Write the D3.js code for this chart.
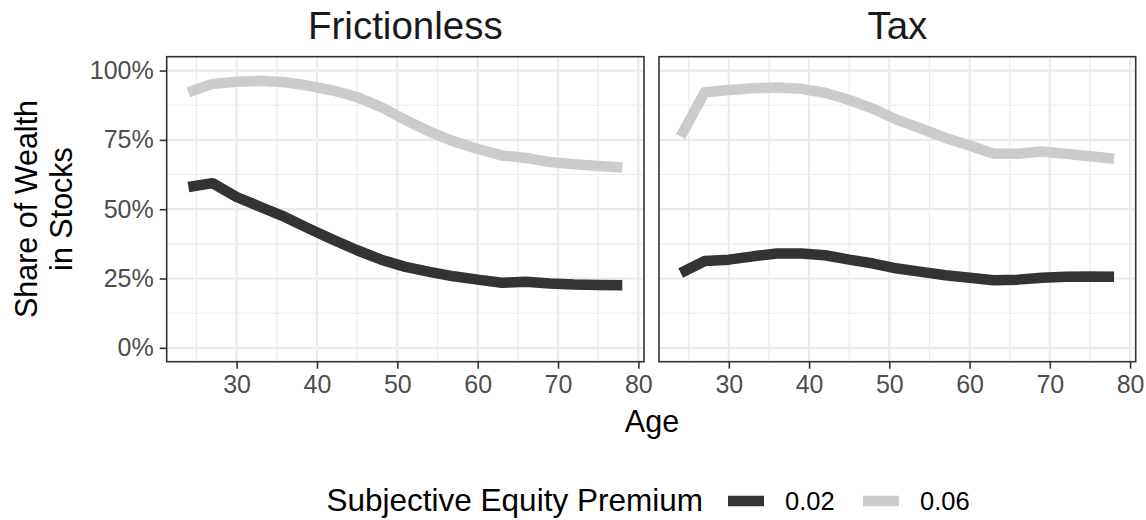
<!DOCTYPE html>
<html><head><meta charset="utf-8">
<script src="https://cdn.jsdelivr.net/npm/d3@7"></script>
<style>body{margin:0;background:#fff} text{font-family:"Liberation Sans",Arial,Helvetica,sans-serif}</style>
</head><body><svg id="c" width="1146" height="520"></svg>
<script>
const ages = [24,27,30,33,36,39,42,45,48,51,54,57,60,63,66,69,72,75,78];
const panels = ["Frictionless","Tax"];
const premiums = ["0.02","0.06"];
const frictionless002 = [0.580,0.594,0.544,0.508,0.472,0.430,0.390,0.352,0.318,0.292,0.274,0.258,0.246,0.235,0.238,0.232,0.228,0.227,0.226];
const frictionless006 = [0.922,0.952,0.960,0.963,0.958,0.945,0.928,0.904,0.868,0.822,0.780,0.745,0.717,0.694,0.685,0.670,0.662,0.656,0.650];
const tax002 = [0.270,0.313,0.318,0.330,0.340,0.340,0.334,0.318,0.304,0.286,0.274,0.262,0.253,0.244,0.246,0.253,0.256,0.257,0.256];
const tax006 = [0.762,0.922,0.930,0.936,0.939,0.934,0.920,0.894,0.862,0.822,0.790,0.757,0.730,0.700,0.700,0.708,0.700,0.691,0.682];
const xTicks = [30,40,50,60,70,80];
const xMinor = [25,35,45,55,65,75];
const yTicks = [0,0.25,0.5,0.75,1];
const yTickLabels = ["0%","25%","50%","75%","100%"];
const yMinor = [0.125,0.375,0.625,0.875];
const colors = ["#333333","#cccccc"];

const seriesByPanel = [[frictionless002, frictionless006],[tax002, tax006]];

(function(){
const svg = d3.select("#c");
const pTop = 56.7, pBottom = 361.7;
const panelRanges = [[166.7,644],[659,1135.7]];
const y = d3.scaleLinear().domain([-0.05,1.05]).range([pBottom, pTop]);

panelRanges.forEach((r, pi) => {
  const x = d3.scaleLinear().domain([21.3,80.7]).range(r);
  const g = svg.append("g");
  g.selectAll(".mx").data(xMinor).enter().append("line")
    .attr("x1", d=>x(d)).attr("x2", d=>x(d)).attr("y1", pTop).attr("y2", pBottom)
    .attr("stroke","#ebebeb").attr("stroke-width",1.1);
  g.selectAll(".my").data(yMinor).enter().append("line")
    .attr("y1", d=>y(d)).attr("y2", d=>y(d)).attr("x1", r[0]).attr("x2", r[1])
    .attr("stroke","#ebebeb").attr("stroke-width",1.1);
  g.selectAll(".Mx").data(xTicks).enter().append("line")
    .attr("x1", d=>x(d)).attr("x2", d=>x(d)).attr("y1", pTop).attr("y2", pBottom)
    .attr("stroke","#ebebeb").attr("stroke-width",2.2);
  g.selectAll(".My").data(yTicks).enter().append("line")
    .attr("y1", d=>y(d)).attr("y2", d=>y(d)).attr("x1", r[0]).attr("x2", r[1])
    .attr("stroke","#ebebeb").attr("stroke-width",2.2);
  const line = d3.line().x((d,i)=>x(ages[i])).y(d=>y(d));
  seriesByPanel[pi].forEach((s, si) => {
    g.append("path").attr("d", line(s)).attr("fill","none")
      .attr("stroke", colors[si]).attr("stroke-width",10.5)
      .attr("stroke-linejoin","round").attr("stroke-linecap","butt");
  });
  g.append("rect").attr("x", r[0]).attr("y", pTop).attr("width", r[1]-r[0]).attr("height", pBottom-pTop)
    .attr("fill","none").attr("stroke","#333333").attr("stroke-width",1.6);
  const xa = svg.append("g").attr("transform", `translate(0,${pBottom})`)
    .call(d3.axisBottom(x).tickValues(xTicks).tickSize(7).tickPadding(7).tickSizeOuter(0));
  xa.select(".domain").remove();
  xa.selectAll(".tick line").attr("stroke","#333333").attr("stroke-width",1.6);
  xa.selectAll(".tick text").attr("fill","#4d4d4d").style("font-size","25px")
    .style("font-family",'"Liberation Sans",Arial,sans-serif');
  svg.append("text").attr("x", (r[0]+r[1])/2).attr("y", 39.3).attr("text-anchor","middle")
    .style("font-size","38.5px").attr("fill","#1a1a1a").text(panels[pi]);
  if (pi === 0) {
    const ya = svg.append("g").attr("transform", `translate(${r[0]},0)`)
      .call(d3.axisLeft(y).tickValues(yTicks).tickFormat((d,i)=>yTickLabels[i]).tickSize(7).tickPadding(6).tickSizeOuter(0));
    ya.select(".domain").remove();
    ya.selectAll(".tick line").attr("stroke","#333333").attr("stroke-width",1.6);
    ya.selectAll(".tick text").attr("fill","#4d4d4d").style("font-size","25px")
      .style("font-family",'"Liberation Sans",Arial,sans-serif');
  }
});

svg.append("text").attr("x", 652).attr("y", 431.5).attr("text-anchor","middle")
  .style("font-size","30.5px").attr("fill","#000").text("Age");
const yt = svg.append("text").attr("transform","translate(37,209) rotate(-90)").attr("text-anchor","middle")
  .style("font-size","30.5px").attr("fill","#000");
yt.append("tspan").attr("x",0).attr("y",0).text("Share of Wealth");
yt.append("tspan").attr("x",0).attr("y",35).text("in Stocks");

svg.append("text").attr("x", 326.5).attr("y", 511).style("font-size","31.5px").attr("fill","#000")
  .text("Subjective Equity Premium");
const keyX = [728, 863];
premiums.forEach((p, i) => {
  svg.append("line").attr("x1", keyX[i]).attr("x2", keyX[i]+36).attr("y1", 501).attr("y2", 501)
    .attr("stroke", colors[i]).attr("stroke-width", 10.5);
  svg.append("text").attr("x", keyX[i]+57).attr("y", 510).style("font-size","25.5px").attr("fill","#000").text(p);
});
})();
</script></body></html>
